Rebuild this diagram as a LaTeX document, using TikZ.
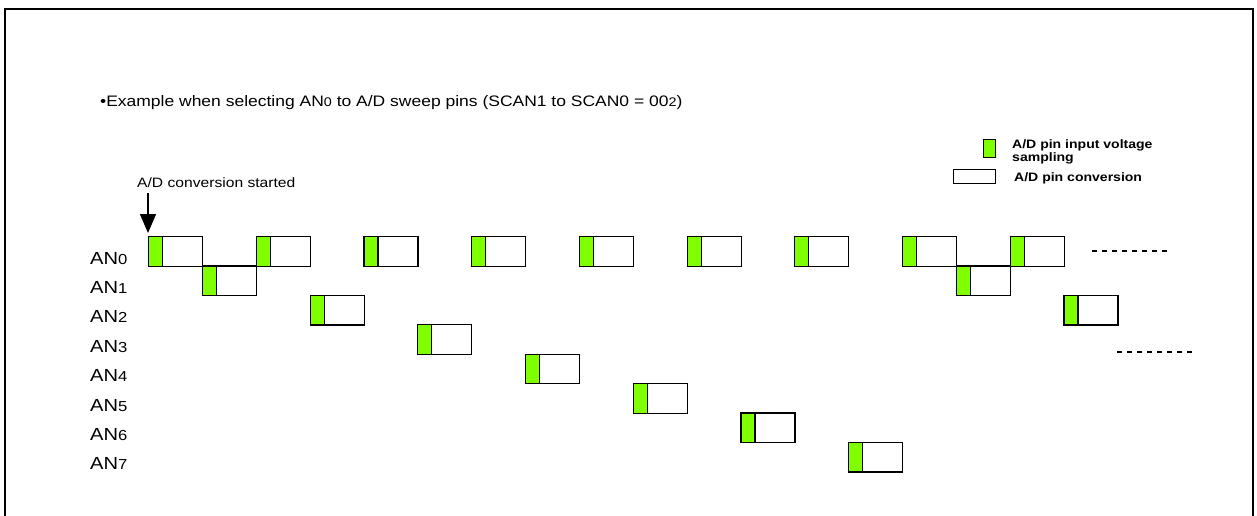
\documentclass[tikz,border=0pt]{standalone}
\usepackage{fontspec}
\setmainfont[FakeStretch=1.15]{Liberation Sans}
\usetikzlibrary{arrows.meta}
\definecolor{samp}{RGB}{128,255,0}
\newcommand{\sm}[2]{{\fontsize{#1}{#1}\selectfont #2}}
\tikzset{
  convbox/.style={draw=black, line width=1.2pt, minimum width=54pt, minimum height=29.5pt,
    inner sep=0pt, anchor=north west, fill=white,
    path picture={\fill[samp] (path picture bounding box.south west) rectangle ([xshift=14pt]path picture bounding box.north west);
      \draw[line width=1.2pt] ([xshift=14pt]path picture bounding box.south west) -- ([xshift=14pt]path picture bounding box.north west);}},
  pinlabel/.style={anchor=base west, inner sep=0pt, font=\fontsize{17.5}{19}\selectfont},
  legtext/.style={inner sep=0pt, align=left, font=\bfseries\fontsize{12.2}{12.8}\selectfont},
  dashline/.style={line width=1.3pt, dash pattern=on 5pt off 5pt},
}
\begin{document}
\begin{tikzpicture}[x=1pt,y=-1pt]
\useasboundingbox (0,0) rectangle (1257,515);
\draw[line width=2pt] (5,516) -- (5,9) -- (1253,9) -- (1253,516);
\node[anchor=base west, inner sep=0pt, font=\fontsize{15.2}{18}\selectfont] (title) at (100,106)
  {•Example when selecting AN\sm{12.5}{0} to A/D sweep pins (SCAN1 to SCAN0 = 00\sm{12.5}{2})};
% legend
\node[draw=black, line width=1.2pt, fill=samp, minimum width=12pt, minimum height=18pt, inner sep=0pt, anchor=north west] (lg1) at (983,139) {};
\node[draw=black, line width=1.2pt, fill=white, minimum width=42pt, minimum height=14pt, inner sep=0pt, anchor=north west] (lg2) at (953,169) {};
\node[legtext, anchor=north west] (lt1) at (1012,139.5) {A/D pin input voltage\\sampling};
\node[legtext, anchor=base west] (lt2) at (1014,181.5) {A/D pin conversion};
% start
\node[anchor=base west, inner sep=0pt, font=\fontsize{13.6}{15}\selectfont] (start) at (137,187) {A/D conversion started};
% pin labels
\foreach \i in {0,...,7} {
  \node[pinlabel] (lab\i) at (90,{264+29.4*\i}) {AN\sm{14.5}{\i}};
}
% boxes: slot, row
\foreach \s/\r in {0/0,1/1,2/0,3/2,4/0,5/3,6/0,7/4,8/0,9/5,10/0,11/6,12/0,13/7,14/0,15/1,16/0,17/2} {
  \node[convbox] (b\s) at ({148+53.85*\s},{236+29.4*\r}) {};
}
\coordinate (arrtop) at (148,193);
\draw[line width=1.5pt, -{Triangle[length=19pt,width=16pt]}, shorten >=3pt] (arrtop) -- (b0.north west);
\coordinate (d1a) at (1092,251); \coordinate (d1b) at (1170,251);
\coordinate (d2a) at (1117,352); \coordinate (d2b) at (1195,352);
\draw[dashline] (d1a) -- (d1b);
\draw[dashline] (d2a) -- (d2b);
\end{tikzpicture}
\end{document}
